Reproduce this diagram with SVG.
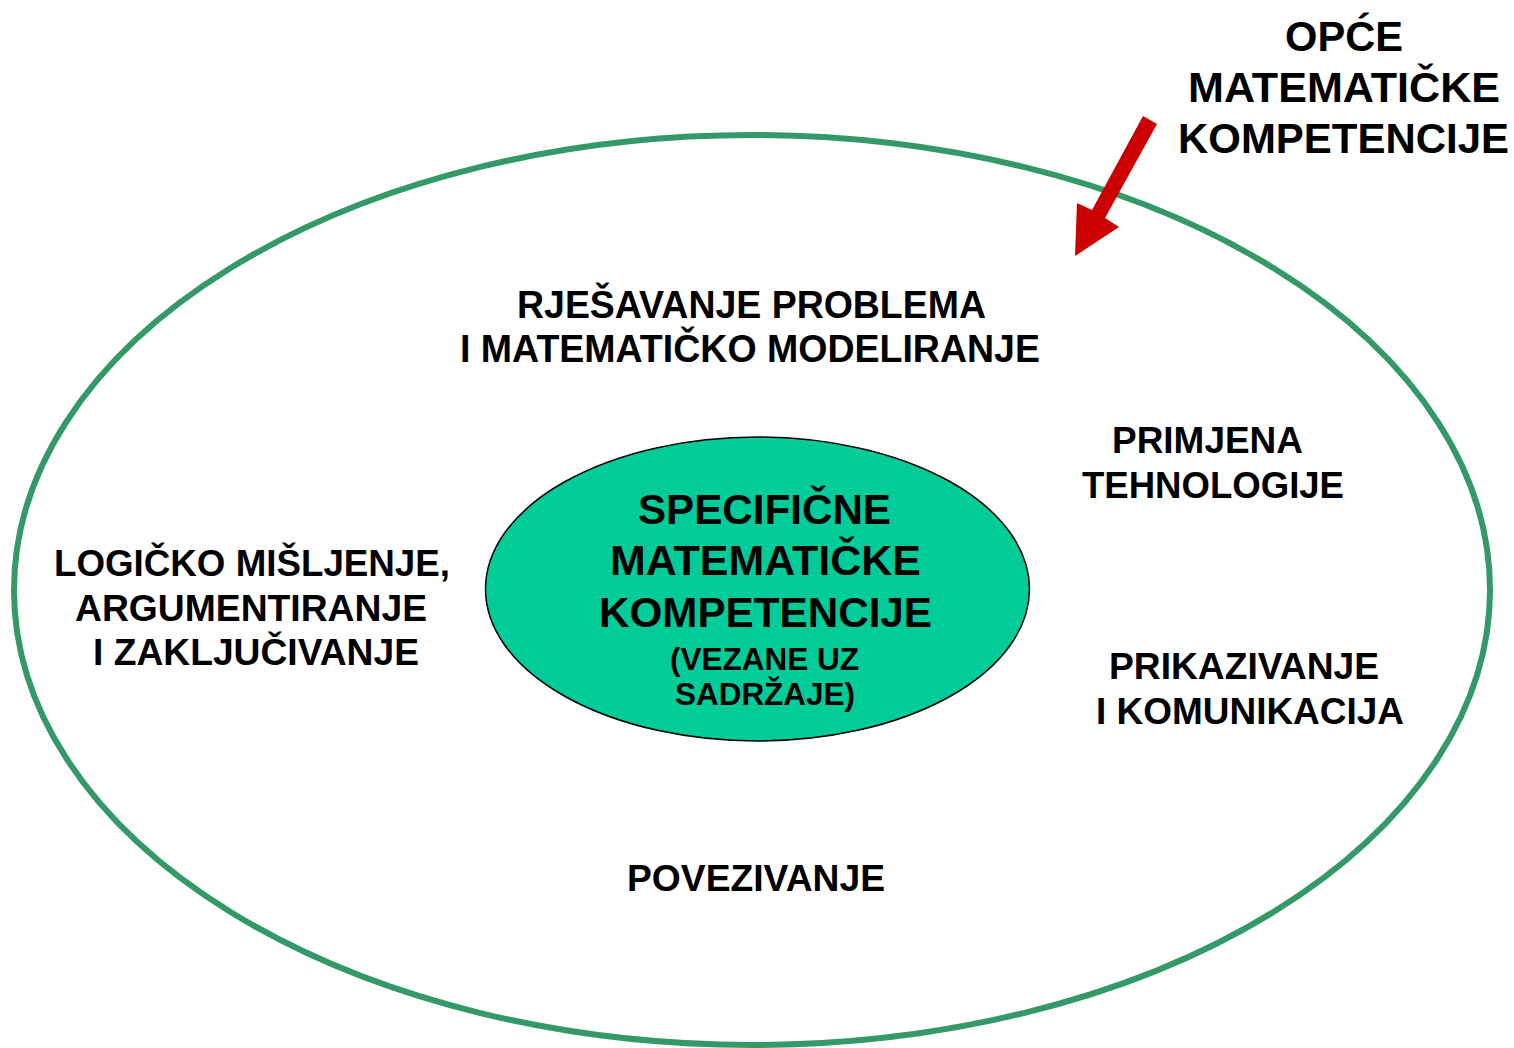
<svg xmlns="http://www.w3.org/2000/svg" width="1514" height="1048" viewBox="0 0 1514 1048">
<style>
text{font-family:"Liberation Sans",Arial,sans-serif;font-weight:bold;fill:#000}
.xl{font-size:42px}
.lg{font-size:39px}
.md{font-size:36px}
.sm{font-size:31px}
</style>
<rect width="1514" height="1048" fill="#fff"/>
<g id="outer">
<ellipse cx="752" cy="590" rx="738" ry="455" fill="none" stroke="#339966" stroke-width="6"/>
</g>
<g id="inner">
<ellipse cx="757.5" cy="589" rx="272" ry="152" fill="#00CC99" stroke="#000" stroke-width="1.5"/>
<text class="xl" x="638" y="524" textLength="253" lengthAdjust="spacingAndGlyphs">SPECIFIČNE</text>
<text class="xl" x="610" y="575" textLength="311" lengthAdjust="spacingAndGlyphs">MATEMATIČKE</text>
<text class="xl" x="599" y="627" textLength="333" lengthAdjust="spacingAndGlyphs">KOMPETENCIJE</text>
<text class="sm" x="670" y="670" textLength="189" lengthAdjust="spacingAndGlyphs">(VEZANE UZ</text>
<text class="sm" x="675" y="705" textLength="180" lengthAdjust="spacingAndGlyphs">SADRŽAJE)</text>
</g>
<g id="title">
<text class="xl" x="1285" y="51" textLength="118" lengthAdjust="spacingAndGlyphs">OPĆE</text>
<text class="xl" x="1188" y="102" textLength="312" lengthAdjust="spacingAndGlyphs">MATEMATIČKE</text>
<text class="xl" x="1178" y="153" textLength="331" lengthAdjust="spacingAndGlyphs">KOMPETENCIJE</text>
</g>
<g id="problem">
<text class="lg" x="517" y="318" textLength="469" lengthAdjust="spacingAndGlyphs">RJEŠAVANJE PROBLEMA</text>
<text class="lg" x="460" y="362" textLength="580" lengthAdjust="spacingAndGlyphs">I MATEMATIČKO MODELIRANJE</text>
</g>
<g id="logic">
<text class="md" x="54" y="576" textLength="396" lengthAdjust="spacingAndGlyphs">LOGIČKO MIŠLJENJE,</text>
<text class="md" x="75" y="621" textLength="352" lengthAdjust="spacingAndGlyphs">ARGUMENTIRANJE</text>
<text class="md" x="93" y="665" textLength="326" lengthAdjust="spacingAndGlyphs">I ZAKLJUČIVANJE</text>
</g>
<g id="technology">
<text class="md" x="1112" y="453" textLength="191" lengthAdjust="spacingAndGlyphs">PRIMJENA</text>
<text class="md" x="1082" y="498" textLength="262" lengthAdjust="spacingAndGlyphs">TEHNOLOGIJE</text>
</g>
<g id="communication">
<text class="md" x="1109" y="679" textLength="270" lengthAdjust="spacingAndGlyphs">PRIKAZIVANJE</text>
<text class="md" x="1096" y="724" textLength="308" lengthAdjust="spacingAndGlyphs">I KOMUNIKACIJA</text>
</g>
<g id="connecting">
<text class="md" x="627" y="891" textLength="258" lengthAdjust="spacingAndGlyphs">POVEZIVANJE</text>
</g>
<g id="connectors">
<polygon points="1143,116 1157,124 1105,218 1119,227 1075,256 1077,203 1092,210" fill="#CC0000"/>
</g>
</svg>
